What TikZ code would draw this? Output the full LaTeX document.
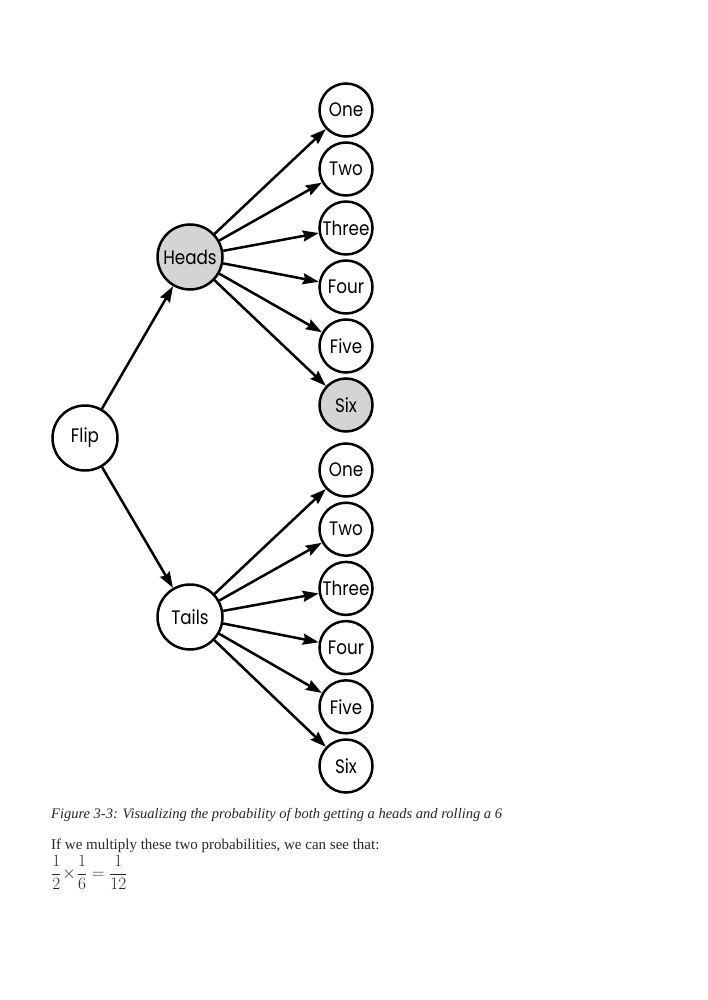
\documentclass[tikz,border=0pt]{standalone}
\usepackage{fontspec}
\setmainfont{Liberation Serif}
\newfontfamily\nodefont[FakeStretch=0.86]{Poppins}
\usetikzlibrary{arrows.meta}
\definecolor{shade}{RGB}{212,212,212}
\definecolor{captext}{RGB}{40,40,40}
\begin{document}
\begin{tikzpicture}[x=1pt,y=-1pt,
  state/.style={circle,draw,line width=2.5pt,inner sep=0pt,font=\nodefont\fontsize{19.5}{22}\selectfont},
  big/.style={state,minimum size=65pt},
  small/.style={state,minimum size=53pt},
  hi/.style={fill=shade},
  edge/.style={line width=2.5pt,-{Stealth[length=16pt,width=11pt,inset=2pt]}},
  txt/.style={anchor=base west,inner sep=0pt,text=captext}]
\useasboundingbox (0,0) rectangle (707,1000);
\node[big] (flip) at (85,438) {Flip};
\node[big,hi] (heads) at (190,257) {Heads};
\node[big] (tails) at (190,617) {Tails};
\foreach \n/\t [count=\i from 0] in {one/One,two/Two,three/Three,four/Four,five/Five,six/Six}{
  \pgfmathsetmacro{\yy}{110+59*\i}
  \pgfmathsetmacro{\yl}{470+59.2*\i}
  \ifnum\i=5
    \node[small,hi] (h\n) at (346,\yy) {\t};
  \else
    \node[small] (h\n) at (346,\yy) {\t};
  \fi
  \node[small] (t\n) at (346,\yl) {\t};
  \draw[edge] (heads) -- (h\n);
  \draw[edge] (tails) -- (t\n);
}
\draw[edge] (flip) -- (heads);
\draw[edge] (flip) -- (tails);
\node[txt,font=\itshape\fontsize{14.5}{17}\selectfont] (cap) at (51,818) {Figure 3-3: Visualizing the probability of both getting a heads and rolling a 6};
\node[txt,font=\fontsize{15}{18}\selectfont] (body) at (51,849) {If we multiply these two probabilities, we can see that:};
\node[anchor=north west,inner sep=0pt,text=captext,font=\fontsize{17.5}{20}\selectfont] (eq) at (51,855) {$\displaystyle \frac{1}{2}\!\times\!\frac{1}{6}=\frac{1}{12}$};
\end{tikzpicture}
\end{document}
